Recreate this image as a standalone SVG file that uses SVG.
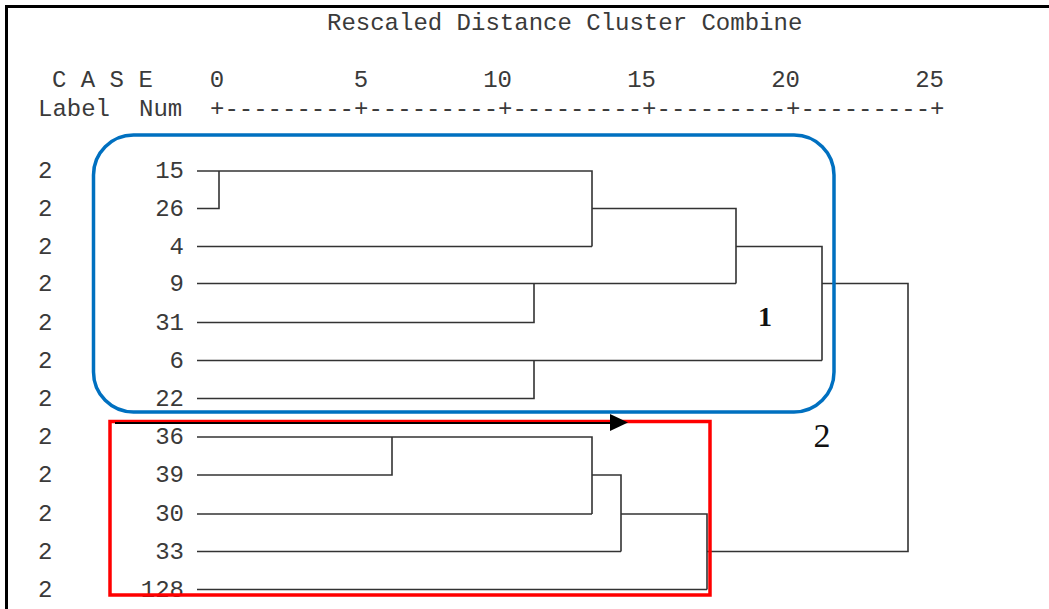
<svg xmlns="http://www.w3.org/2000/svg" width="1049" height="609" viewBox="0 0 1049 609">
<style>
.mono{font-family:"Liberation Mono","Courier New",monospace;font-size:24px;fill:#3a3a3a}
.num{text-anchor:end}
.conn{fill:none;stroke:#333;stroke-width:1.6}
.ser{font-family:"Liberation Serif","Times New Roman",serif;fill:#111;text-anchor:middle}
</style>
<rect x="0" y="0" width="1049" height="609" fill="#fff"/>
<path d="M5,6.5 H1049 M6.5,5 V609" stroke="#000" stroke-width="3" fill="none"/>
<g id="header">
<text class="mono" x="327" y="30">Rescaled Distance Cluster Combine</text>
<text class="mono" x="52" y="87">C A S E</text>
<text class="mono" x="38" y="116">Label</text>
<text class="mono" x="139" y="116">Num</text>
<text class="mono" x="217" y="87" text-anchor="middle">0</text>
<text class="mono" x="361" y="87" text-anchor="middle">5</text>
<text class="mono num" x="512" y="87">10</text>
<text class="mono num" x="656" y="87">15</text>
<text class="mono num" x="800" y="87">20</text>
<text class="mono num" x="944" y="87">25</text>
<text class="mono" x="210" y="116">+---------+---------+---------+---------+---------+</text>
</g>
<g id="leaf-15"><text class="mono" x="38" y="178">2</text><text class="mono num" x="184" y="178">15</text></g>
<g id="leaf-26"><text class="mono" x="38" y="215.5">2</text><text class="mono num" x="184" y="215.5">26</text></g>
<g id="leaf-4"><text class="mono" x="38" y="253.5">2</text><text class="mono num" x="184" y="253.5">4</text></g>
<g id="leaf-9"><text class="mono" x="38" y="290.5">2</text><text class="mono num" x="184" y="290.5">9</text></g>
<g id="leaf-31"><text class="mono" x="38" y="329.5">2</text><text class="mono num" x="184" y="329.5">31</text></g>
<g id="leaf-6"><text class="mono" x="38" y="367.5">2</text><text class="mono num" x="184" y="367.5">6</text></g>
<g id="leaf-22"><text class="mono" x="38" y="405.5">2</text><text class="mono num" x="184" y="405.5">22</text></g>
<g id="leaf-36"><text class="mono" x="38" y="444">2</text><text class="mono num" x="184" y="444">36</text></g>
<g id="leaf-39"><text class="mono" x="38" y="482">2</text><text class="mono num" x="184" y="482">39</text></g>
<g id="leaf-30"><text class="mono" x="38" y="521">2</text><text class="mono num" x="184" y="521">30</text></g>
<g id="leaf-33"><text class="mono" x="38" y="558.5">2</text><text class="mono num" x="184" y="558.5">33</text></g>
<g id="leaf-128"><text class="mono" x="38" y="596.5">2</text><text class="mono num" x="184" y="596.5">128</text></g>
<g id="connectors">
<path class="conn" d="M197,171 H592 V246.5 M197,208.5 H219 V171 M197,246.5 H592
M592,208.5 H736 V283.5 M197,283.5 H736
M197,322.5 H534 V283.5
M736,246.5 H822 V360.5 M197,360.5 H822
M197,398.5 H534 V360.5
M822,283.5 H908 V551.5 H707
M197,437 H592 V514 M197,475 H392 V437 M197,514 H592
M592,475 H621 V551.5 M197,551.5 H621
M621,514 H707 V589.5 M197,589.5 H707"/>
</g>
<g id="cluster-1">
<rect x="93.5" y="135" width="740.5" height="277" rx="40" ry="40" fill="none" stroke="#0070C0" stroke-width="3.5"/>
<text class="ser" x="765" y="326" font-size="28" font-weight="bold">1</text>
</g>
<g id="cluster-2">
<rect x="110" y="421.5" width="600" height="173.5" fill="none" stroke="#FF0000" stroke-width="3.5"/>
<text class="ser" x="822" y="447" font-size="34">2</text>
</g>
<g id="arrow">
<line x1="115" y1="423" x2="612" y2="423" stroke="#000" stroke-width="2"/>
<polygon points="610,414 628,422.5 610,431" fill="#000"/>
</g>
</svg>
